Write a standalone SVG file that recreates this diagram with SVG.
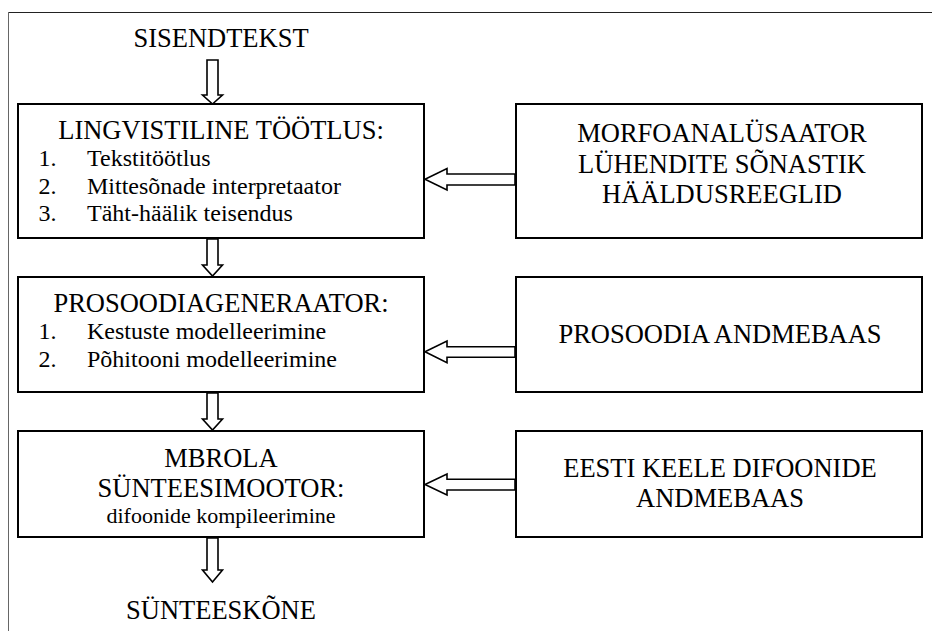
<svg xmlns="http://www.w3.org/2000/svg" width="932" height="631" viewBox="0 0 932 631">
<style>
  .h { font-size: 26.5px; text-anchor: middle; }
  .i { font-size: 24px; }
  .s { font-size: 22px; text-anchor: middle; }
  .box { fill: #fff; stroke: #000; stroke-width: 2; }
  .arr { fill: #fff; stroke: #000; stroke-width: 1.6; stroke-linejoin: miter; }
</style>
<rect width="932" height="631" fill="#fff"/>
<g id="frame">
  <line x1="8.5" y1="12.5" x2="932" y2="12.5" stroke="#222" stroke-width="1"/>
  <line x1="8.5" y1="12" x2="8.5" y2="631" stroke="#666" stroke-width="1"/>
</g>
<g font-family="Liberation Serif, Tinos, Times New Roman, Times, DejaVu Serif, serif" fill="#000">
<g id="input"><text class="h" x="221" y="47">SISENDTEKST</text></g>
<g id="lingvistiline">
  <rect class="box" x="18" y="104" width="406" height="134"/>
  <text class="h" x="221" y="139">LINGVISTILINE TÖÖTLUS:</text>
  <text class="i" x="38.5" y="166">1.</text><text class="i" x="87" y="166">Tekstitöötlus</text>
  <text class="i" x="38.5" y="193.5">2.</text><text class="i" x="87" y="193.5">Mittesõnade interpretaator</text>
  <text class="i" x="38.5" y="221">3.</text><text class="i" x="87" y="221">Täht-häälik teisendus</text>
</g>
<g id="prosoodiagen">
  <rect class="box" x="18" y="277" width="406" height="115"/>
  <text class="h" x="221" y="311.5">PROSOODIAGENERAATOR:</text>
  <text class="i" x="38.5" y="339">1.</text><text class="i" x="87" y="339">Kestuste modelleerimine</text>
  <text class="i" x="38.5" y="367">2.</text><text class="i" x="87" y="367">Põhitooni modelleerimine</text>
</g>
<g id="mbrola">
  <rect class="box" x="18" y="431" width="406" height="106"/>
  <text class="h" x="221" y="467">MBROLA</text>
  <text class="h" x="221" y="497">SÜNTEESIMOOTOR:</text>
  <text class="s" x="221" y="523">difoonide kompileerimine</text>
</g>
<g id="morfo">
  <rect class="box" x="516" y="104" width="406" height="134"/>
  <text class="h" x="722" y="142">MORFOANALÜSAATOR</text>
  <text class="h" x="722" y="172.5">LÜHENDITE SÕNASTIK</text>
  <text class="h" x="722" y="203">HÄÄLDUSREEGLID</text>
</g>
<g id="prosoodia-db">
  <rect class="box" x="516" y="277" width="406" height="115"/>
  <text class="h" x="720" y="343">PROSOODIA ANDMEBAAS</text>
</g>
<g id="difoonid-db">
  <rect class="box" x="516" y="431" width="406" height="106"/>
  <text class="h" x="720" y="477">EESTI KEELE DIFOONIDE</text>
  <text class="h" x="720" y="507">ANDMEBAAS</text>
</g>
<g id="output"><text class="h" x="221" y="619">SÜNTEESKÕNE</text></g>
</g>
<g id="connectors">
  <polygon class="arr" points="207,60 218,60 218,95 222.5,95 212.5,104 202.5,95 207,95"/>
  <polygon class="arr" points="207,239 218,239 218,265 222.5,265 212.5,276 202.5,265 207,265"/>
  <polygon class="arr" points="207,393 218,393 218,419 222.5,419 212.5,430 202.5,419 207,419"/>
  <polygon class="arr" points="207,538 218,538 218,570 222.5,570 212.5,582 202.5,570 207,570"/>
  <polygon class="arr" points="515,174 447,174 447,168.5 425,179.3 447,190 447,185 515,185"/>
  <polygon class="arr" points="515,346.7 447,346.7 447,341 425,351.8 447,362.7 447,357.3 515,357.3"/>
  <polygon class="arr" points="515,479.3 447,479.3 447,474 425,484.5 447,495 447,490 515,490"/>
</g>
</svg>
